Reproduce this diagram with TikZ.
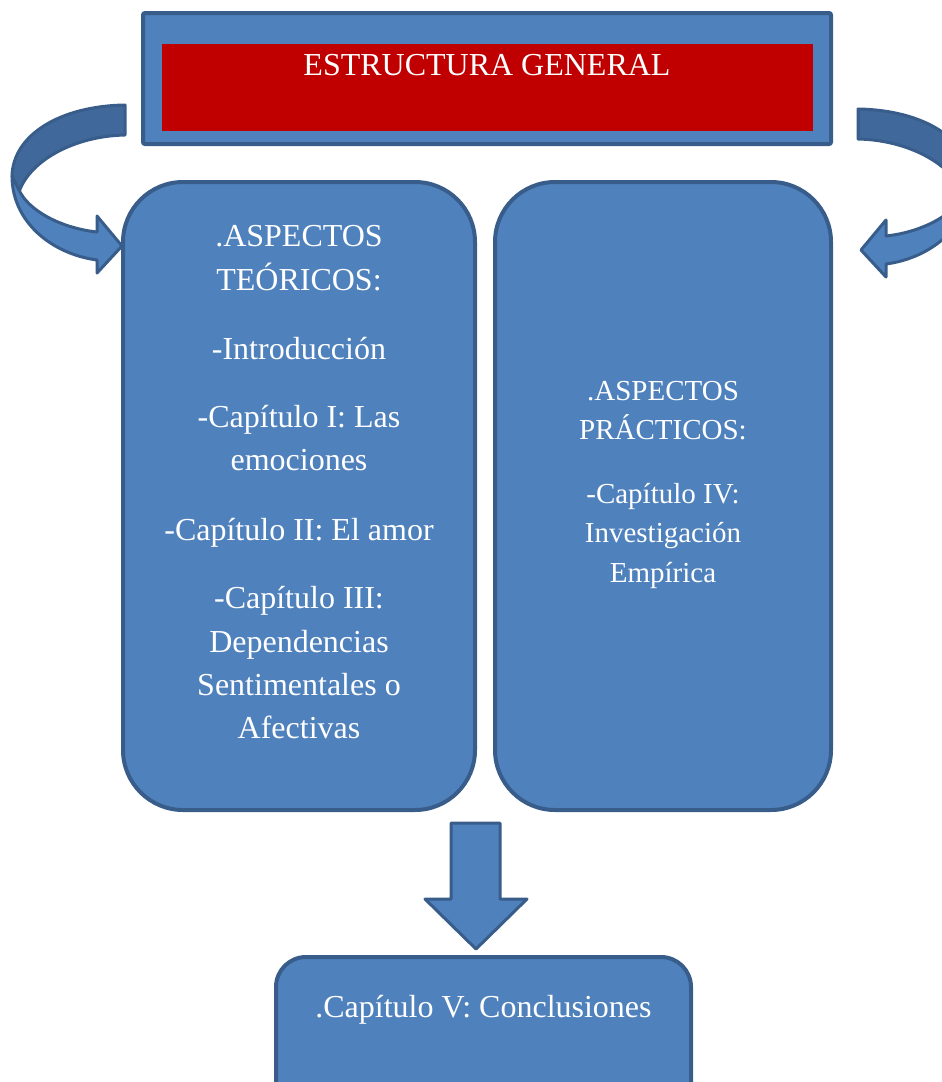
\documentclass[tikz,border=0pt]{standalone}
\usepackage{fontspec}
\setmainfont{Liberation Serif}
\definecolor{boxfill}{HTML}{4F81BD}
\definecolor{boxline}{HTML}{385D8A}
\definecolor{boxdark}{HTML}{41689B}
\definecolor{titlered}{HTML}{C00000}
\newcommand\mycurvedarrow{%
    \path[shapeline, fill=boxdark]
      (125,105) .. controls (60,106) and (13,135) .. (12,176)
      -- (19,192) .. controls (30,160) and (75,136) .. (125,135) -- cycle;
    \path[shapeline, fill=boxfill]
      (12,176) .. controls (12,222) and (52,254) .. (97,260)
      -- (97,273) -- (122,246) -- (97,216) -- (97,232)
      .. controls (60,228) and (28,210) .. (19,190) -- cycle;
}
\begin{document}
\begin{tikzpicture}[x=1pt,y=-1pt,
  blockbox/.style={draw=boxline, fill=boxfill, line width=4pt, inner sep=0pt},
  big/.style={text=white, font=\fontsize{32}{38}\selectfont, anchor=base, inner sep=0pt},
  small/.style={text=white, font=\fontsize{29}{35}\selectfont, anchor=base, inner sep=0pt},
  shapeline/.style={draw=boxline, line width=3pt, line join=round}]
\useasboundingbox (0,0) rectangle (942,1082);
\clip (0,0) rectangle (942,1082);

% title box
\node[blockbox, rounded corners=2pt, minimum width=688pt, minimum height=131pt] (top) at (487,78.5) {};
\node[fill=titlered, inner sep=0pt, minimum width=651pt, minimum height=87pt] (red) at (487.5,87.5) {};
\node[big] (title) at (487,75) {ESTRUCTURA GENERAL};

% curved arrows
\mycurvedarrow
\begin{scope}[shift={(983,4)}, xscale=-1]
  \mycurvedarrow
\end{scope}

% two main boxes
\node[blockbox, rounded corners=60pt, minimum width=352pt, minimum height=628pt] (teo) at (299,496) {};
\node[blockbox, rounded corners=60pt, minimum width=336pt, minimum height=628pt] (pra) at (663,496) {};

% left box text
\node[big] (t1) at (299,246.5) {.ASPECTOS};
\node[big] (t2) at (299,290) {TEÓRICOS:};
\node[big] (t3) at (299,359) {-Introducción};
\node[big] (t4) at (299,427) {-Capítulo I: Las};
\node[big] (t5) at (299,470) {emociones};
\node[big] (t6) at (299,540) {-Capítulo II: El amor};
\node[big] (t7) at (299,608) {-Capítulo III:};
\node[big] (t8) at (299,652) {Dependencias};
\node[big] (t9) at (299,695) {Sentimentales o};
\node[big] (t10) at (299,738) {Afectivas};

% right box text
\node[small] (p1) at (663,400) {.ASPECTOS};
\node[small] (p2) at (663,439) {PRÁCTICOS:};
\node[small] (p3) at (663,503) {-Capítulo IV:};
\node[small] (p4) at (663,542) {Investigación};
\node[small] (p5) at (663,582) {Empírica};

% down block arrow
\path[shapeline, fill=boxfill] (451,823) -- (500,823) -- (500,899) -- (527,899)
  -- (476,949) -- (425,899) -- (451,899) -- cycle;

% conclusion box
\node[blockbox, rounded corners=30pt, minimum width=415pt, minimum height=160pt] (concl) at (483.5,1037) {};
\node[big] (c1) at (483.5,1017) {.Capítulo V: Conclusiones};
\end{tikzpicture}
\end{document}
